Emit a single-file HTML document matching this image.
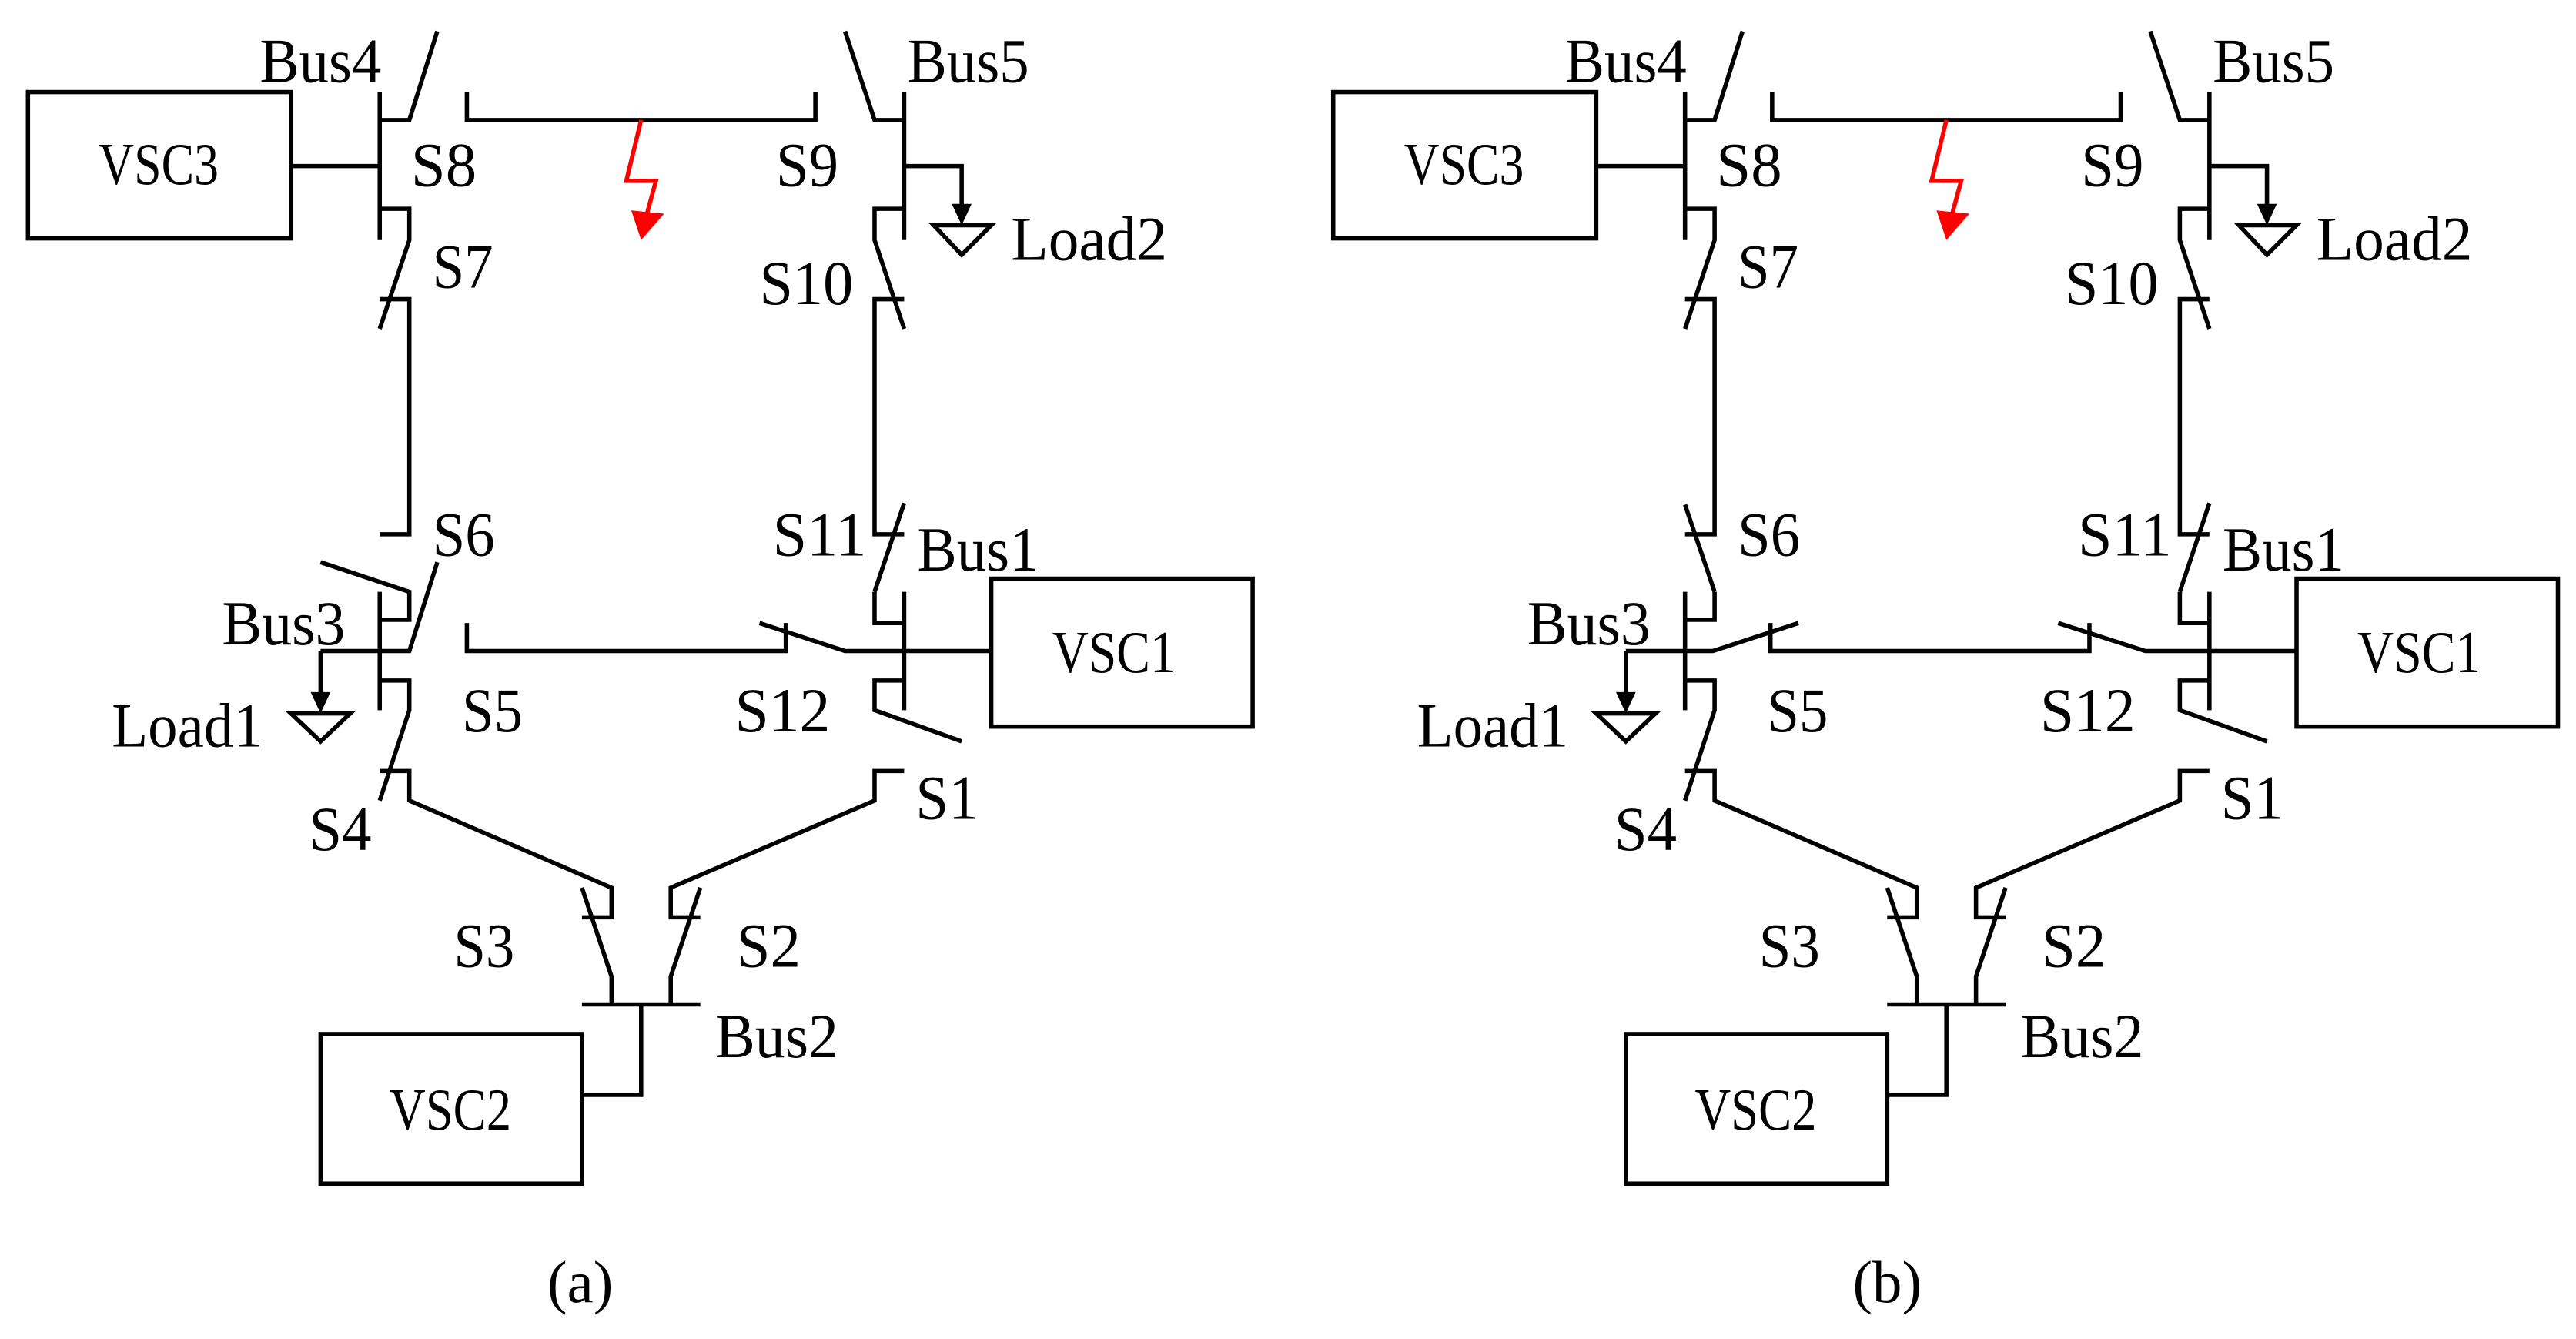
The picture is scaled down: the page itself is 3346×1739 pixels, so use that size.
<!DOCTYPE html>
<html><head><meta charset="utf-8"><style>
html,body{margin:0;padding:0;background:#fff;}
svg{display:block;}
text{font-family:"Liberation Serif",serif;fill:#000;}
</style></head><body>
<svg width="3346" height="1739" viewBox="0 0 1567 814.5" preserveAspectRatio="none" xmlns="http://www.w3.org/2000/svg">
<defs>
<g id="common" fill="none" stroke="#000" stroke-width="2.6">
  <rect x="17" y="56" width="160" height="89"/>
  <line x1="177" y1="101" x2="231" y2="101"/>
  <line x1="231" y1="56" x2="231" y2="146"/>
  <polyline points="231,73 249,73 266,19"/>
  <polyline points="284,56 284,73 496,73 496,56"/>
  <polyline points="550,73 532,73 514,19"/>
  <line x1="550" y1="56" x2="550" y2="146"/>
  <polyline points="550,101 585,101 585,125"/>
  <polyline points="231,127 249,127 249,146 231,200"/>
  <polyline points="231,182 249,182 249,325 231,325"/>
  <polyline points="550,127 532,127 532,146 550,200"/>
  <polyline points="550,182 532,182 532,325 550,325"/>
  <line x1="550" y1="306" x2="532" y2="360"/>
  <polyline points="532,360 532,379 550,379"/>
  <line x1="550" y1="360" x2="550" y2="432"/>
  <rect x="603" y="352" width="159" height="90"/>
  <polyline points="550,414 532,414 532,432 585,451"/>
  <line x1="231" y1="360" x2="231" y2="432"/>
  <polyline points="195,423 195,396"/>
  <polyline points="231,414 249,414 249,432 231,487"/>
  <polyline points="231,469 249,469 249,487 372,540 372,558 354,558"/>
  <polyline points="354,540 372,594 372,611"/>
  <polyline points="550,469 532,469 532,487 408,540 408,558 426,558"/>
  <polyline points="426,540 408,594 408,611"/>
  <line x1="354" y1="611" x2="426" y2="611"/>
  <polyline points="390,611 390,666 354,666"/>
  <rect x="195" y="629" width="159" height="91"/>
</g>
<g id="commonfill">
  <polygon points="579,124 591,124 585,137" fill="#000"/>
  <polygon points="568,137 603,137 585,155" fill="none" stroke="#000" stroke-width="2.6"/>
  <polygon points="189,421 201,421 195,434" fill="#000"/>
  <polygon points="177,434 213,434 195,451" fill="none" stroke="#000" stroke-width="2.6"/>
  <polyline points="390,73 381,110 399,110 393,132" fill="none" stroke="#f00" stroke-width="2.6"/>
  <polygon points="384,128 404,130 390,146" fill="#f00"/>
</g>
<g id="labels" font-size="38">
  <text x="158" y="50" textLength="74" lengthAdjust="spacingAndGlyphs">Bus4</text>
  <text x="552" y="50" textLength="74" lengthAdjust="spacingAndGlyphs">Bus5</text>
  <text x="250" y="113" textLength="40" lengthAdjust="spacingAndGlyphs">S8</text>
  <text x="472" y="113" textLength="38" lengthAdjust="spacingAndGlyphs">S9</text>
  <text x="263" y="175" textLength="37" lengthAdjust="spacingAndGlyphs">S7</text>
  <text x="462" y="185" textLength="57" lengthAdjust="spacingAndGlyphs">S10</text>
  <text x="615" y="158" textLength="95" lengthAdjust="spacingAndGlyphs">Load2</text>
  <text x="263" y="338" textLength="38" lengthAdjust="spacingAndGlyphs">S6</text>
  <text x="470" y="338" textLength="57" lengthAdjust="spacingAndGlyphs">S11</text>
  <text x="558" y="347" textLength="74" lengthAdjust="spacingAndGlyphs">Bus1</text>
  <text x="135" y="392" textLength="75" lengthAdjust="spacingAndGlyphs">Bus3</text>
  <text x="281" y="445" textLength="37" lengthAdjust="spacingAndGlyphs">S5</text>
  <text x="447" y="445" textLength="58" lengthAdjust="spacingAndGlyphs">S12</text>
  <text x="68" y="454" textLength="92" lengthAdjust="spacingAndGlyphs">Load1</text>
  <text x="188" y="517" textLength="38" lengthAdjust="spacingAndGlyphs">S4</text>
  <text x="557" y="498" textLength="38" lengthAdjust="spacingAndGlyphs">S1</text>
  <text x="276" y="588" textLength="37" lengthAdjust="spacingAndGlyphs">S3</text>
  <text x="448" y="588" textLength="39" lengthAdjust="spacingAndGlyphs">S2</text>
  <text x="435" y="643" textLength="75" lengthAdjust="spacingAndGlyphs">Bus2</text>
  <text x="60" y="112" font-size="36" textLength="73" lengthAdjust="spacingAndGlyphs">VSC3</text>
  <text x="640" y="409" font-size="36" textLength="75" lengthAdjust="spacingAndGlyphs">VSC1</text>
  <text x="237" y="687" font-size="36" textLength="74" lengthAdjust="spacingAndGlyphs">VSC2</text>
</g>
</defs>

<use href="#common"/>
<use href="#commonfill"/>
<use href="#labels"/>
<g fill="none" stroke="#000" stroke-width="2.6">
  <polyline points="231,377 249,377 249,360 195,342"/>
  <polyline points="195,396 249,396 266,342"/>
  <polyline points="284,379 284,396 478,396 478,379"/>
  <polyline points="462,379 514,396 603,396"/>
</g>
<text x="333" y="792" font-size="36">(a)</text>

<g transform="translate(794,0)">
  <use href="#common"/>
  <use href="#commonfill"/>
  <use href="#labels"/>
  <g fill="none" stroke="#000" stroke-width="2.6">
    <line x1="249" y1="360" x2="231" y2="307"/>
    <polyline points="231,377 249,377 249,360"/>
    <polyline points="195,396 248,396 300,379"/>
    <polyline points="283,379 283,396 477,396 477,379"/>
    <polyline points="458,379 511,396 603,396"/>
  </g>
  <text x="333" y="792" font-size="36">(b)</text>
</g>
</svg>
</body></html>
